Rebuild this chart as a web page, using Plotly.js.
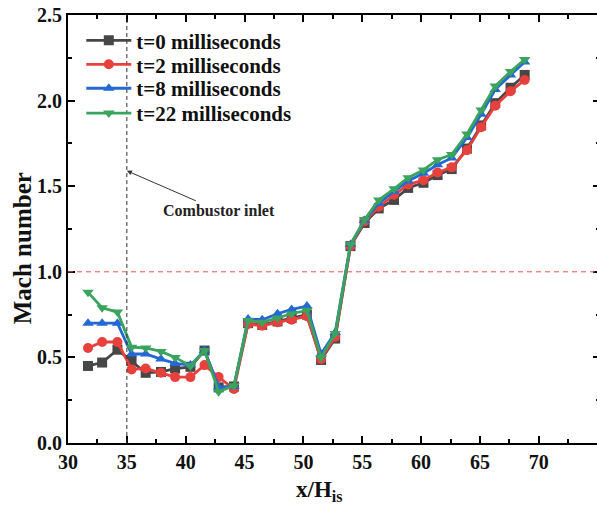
<!DOCTYPE html>
<html>
<head>
<meta charset="utf-8">
<script src="https://cdn.plot.ly/plotly-3.0.1.min.js"></script>
<style>
html,body{margin:0;padding:0;overflow:hidden;background:#fff;}
#chart{width:605px;height:510px;}
</style>
</head>
<body>
<div id="chart"></div>
<script>
const xPos = [31.7, 32.9, 34.2, 35.4, 36.6, 37.9, 39.1, 40.4, 41.6, 42.8, 44.1, 45.3, 46.5, 47.8, 49.0, 50.3, 51.5, 52.7, 54.0, 55.2, 56.4, 57.7, 58.9, 60.2, 61.4, 62.6, 63.9, 65.1, 66.3, 67.6, 68.8];
const machT0 = [0.45, 0.47, 0.545, 0.48, 0.41, 0.415, 0.435, 0.445, 0.54, 0.325, 0.33, 0.70, 0.69, 0.71, 0.73, 0.75, 0.485, 0.61, 1.15, 1.285, 1.37, 1.42, 1.49, 1.52, 1.565, 1.60, 1.72, 1.855, 1.985, 2.075, 2.15];
const machT2 = [0.555, 0.59, 0.59, 0.43, 0.435, 0.41, 0.385, 0.385, 0.455, 0.385, 0.315, 0.695, 0.685, 0.705, 0.72, 0.74, 0.49, 0.62, 1.15, 1.295, 1.38, 1.45, 1.51, 1.535, 1.58, 1.61, 1.71, 1.845, 1.97, 2.055, 2.12];
const machT8 = [0.70, 0.70, 0.70, 0.52, 0.52, 0.49, 0.465, 0.455, 0.54, 0.325, 0.33, 0.725, 0.72, 0.755, 0.78, 0.80, 0.52, 0.645, 1.16, 1.30, 1.40, 1.47, 1.53, 1.575, 1.625, 1.665, 1.785, 1.92, 2.065, 2.15, 2.225];
const machT22 = [0.88, 0.79, 0.765, 0.56, 0.555, 0.535, 0.50, 0.45, 0.54, 0.30, 0.335, 0.715, 0.705, 0.73, 0.755, 0.775, 0.50, 0.64, 1.16, 1.305, 1.42, 1.485, 1.55, 1.595, 1.655, 1.685, 1.805, 1.945, 2.085, 2.17, 2.24];
const seriesNames = ['t=0 milliseconds', 't=2 milliseconds', 't=8 milliseconds', 't=22 milliseconds'];
const xTitle = 'x/H<sub>is</sub>';
const yTitle = 'Mach number';
const inletLabel = 'Combustor inlet';
const inletX = 35;
const sonicM = 1.0;

const colors = ['#474747', '#e8413d', '#2468d4', '#3aa35e'];
const symbols = ['square', 'circle', 'triangle-up', 'triangle-down'];
const ys = [machT0, machT2, machT8, machT22];
const legendIds = ['legend', 'legend2', 'legend3', 'legend4'];

const font = 'Liberation Serif, Times New Roman, serif';
const traces = ys.map((y, i) => ({
  x: xPos, y: y, type: 'scatter', mode: 'lines+markers', name: seriesNames[i],
  legend: legendIds[i],
  line: {color: colors[i], width: 2.8},
  marker: {color: colors[i], symbol: symbols[i], size: 10}
}));

const axisCommon = {
  showline: true, linewidth: 2, linecolor: '#000', mirror: 'ticks',
  ticks: 'inside', ticklen: 7, tickwidth: 2, tickcolor: '#000',
  showgrid: false, zeroline: false,
  tickfont: {family: font, size: 20, color: '#111', weight: 'bold'}
};

const layout = {
  width: 605, height: 510,
  margin: {l: 68, r: 5, t: 15, b: 67},
  paper_bgcolor: '#fff', plot_bgcolor: '#fff',
  font: {family: font, color: '#111'},
  showlegend: true,
  xaxis: Object.assign({}, axisCommon, {
    range: [30, 75.2], tickmode: 'linear', tick0: 30, dtick: 5,
    minor: {ticks: 'inside', ticklen: 4, tickwidth: 2, tickcolor: '#000', dtick: 2.5}
  }),
  yaxis: Object.assign({}, axisCommon, {
    range: [0, 2.5], tickmode: 'linear', tick0: 0, dtick: 0.5, tickformat: '.1f',
    minor: {ticks: 'inside', ticklen: 4, tickwidth: 2, tickcolor: '#000', dtick: 0.25}
  }),
  shapes: [
    {type: 'line', xref: 'x', yref: 'paper', x0: inletX, x1: inletX, y0: 0, y1: 1,
     line: {color: '#333', width: 1, dash: '4px,3px'}},
    {type: 'line', xref: 'paper', yref: 'y', x0: 0, x1: 1, y0: sonicM, y1: sonicM,
     line: {color: '#e05555', width: 1, dash: '5px,4px'}}
  ],
  annotations: [
    {x: inletX, y: 1.59, xref: 'x', yref: 'y', text: inletLabel,
     showarrow: true, arrowhead: 2, arrowsize: 1, arrowwidth: 1, arrowcolor: '#333',
     ax: 92, ay: 40, font: {family: font, size: 16, color: '#222', weight: 'bold'}},
    {x: -0.0865, y: 0.455, xref: 'paper', yref: 'paper', text: yTitle, textangle: -90,
     showarrow: false, xanchor: 'center', yanchor: 'middle',
     font: {family: font, size: 25, color: '#111', weight: 'bold'}},
    {x: 0.472, y: -0.112, xref: 'paper', yref: 'paper', text: xTitle,
     showarrow: false, xanchor: 'center', yanchor: 'middle',
     font: {family: font, size: 23, color: '#111', weight: 'bold'}}
  ]
};

const legendTops = [0.94, 0.884, 0.828, 0.77];
legendIds.forEach((id, i) => {
  layout[id] = {
    x: 0.025, y: legendTops[i], xanchor: 'left', yanchor: 'middle',
    bgcolor: 'rgba(0,0,0,0)', borderwidth: 0,
    font: {family: font, size: 21, color: '#111', weight: 'bold'},
    itemwidth: 45
  };
});

Plotly.newPlot('chart', traces, layout, {displayModeBar: false, staticPlot: true});
</script>
</body>
</html>
